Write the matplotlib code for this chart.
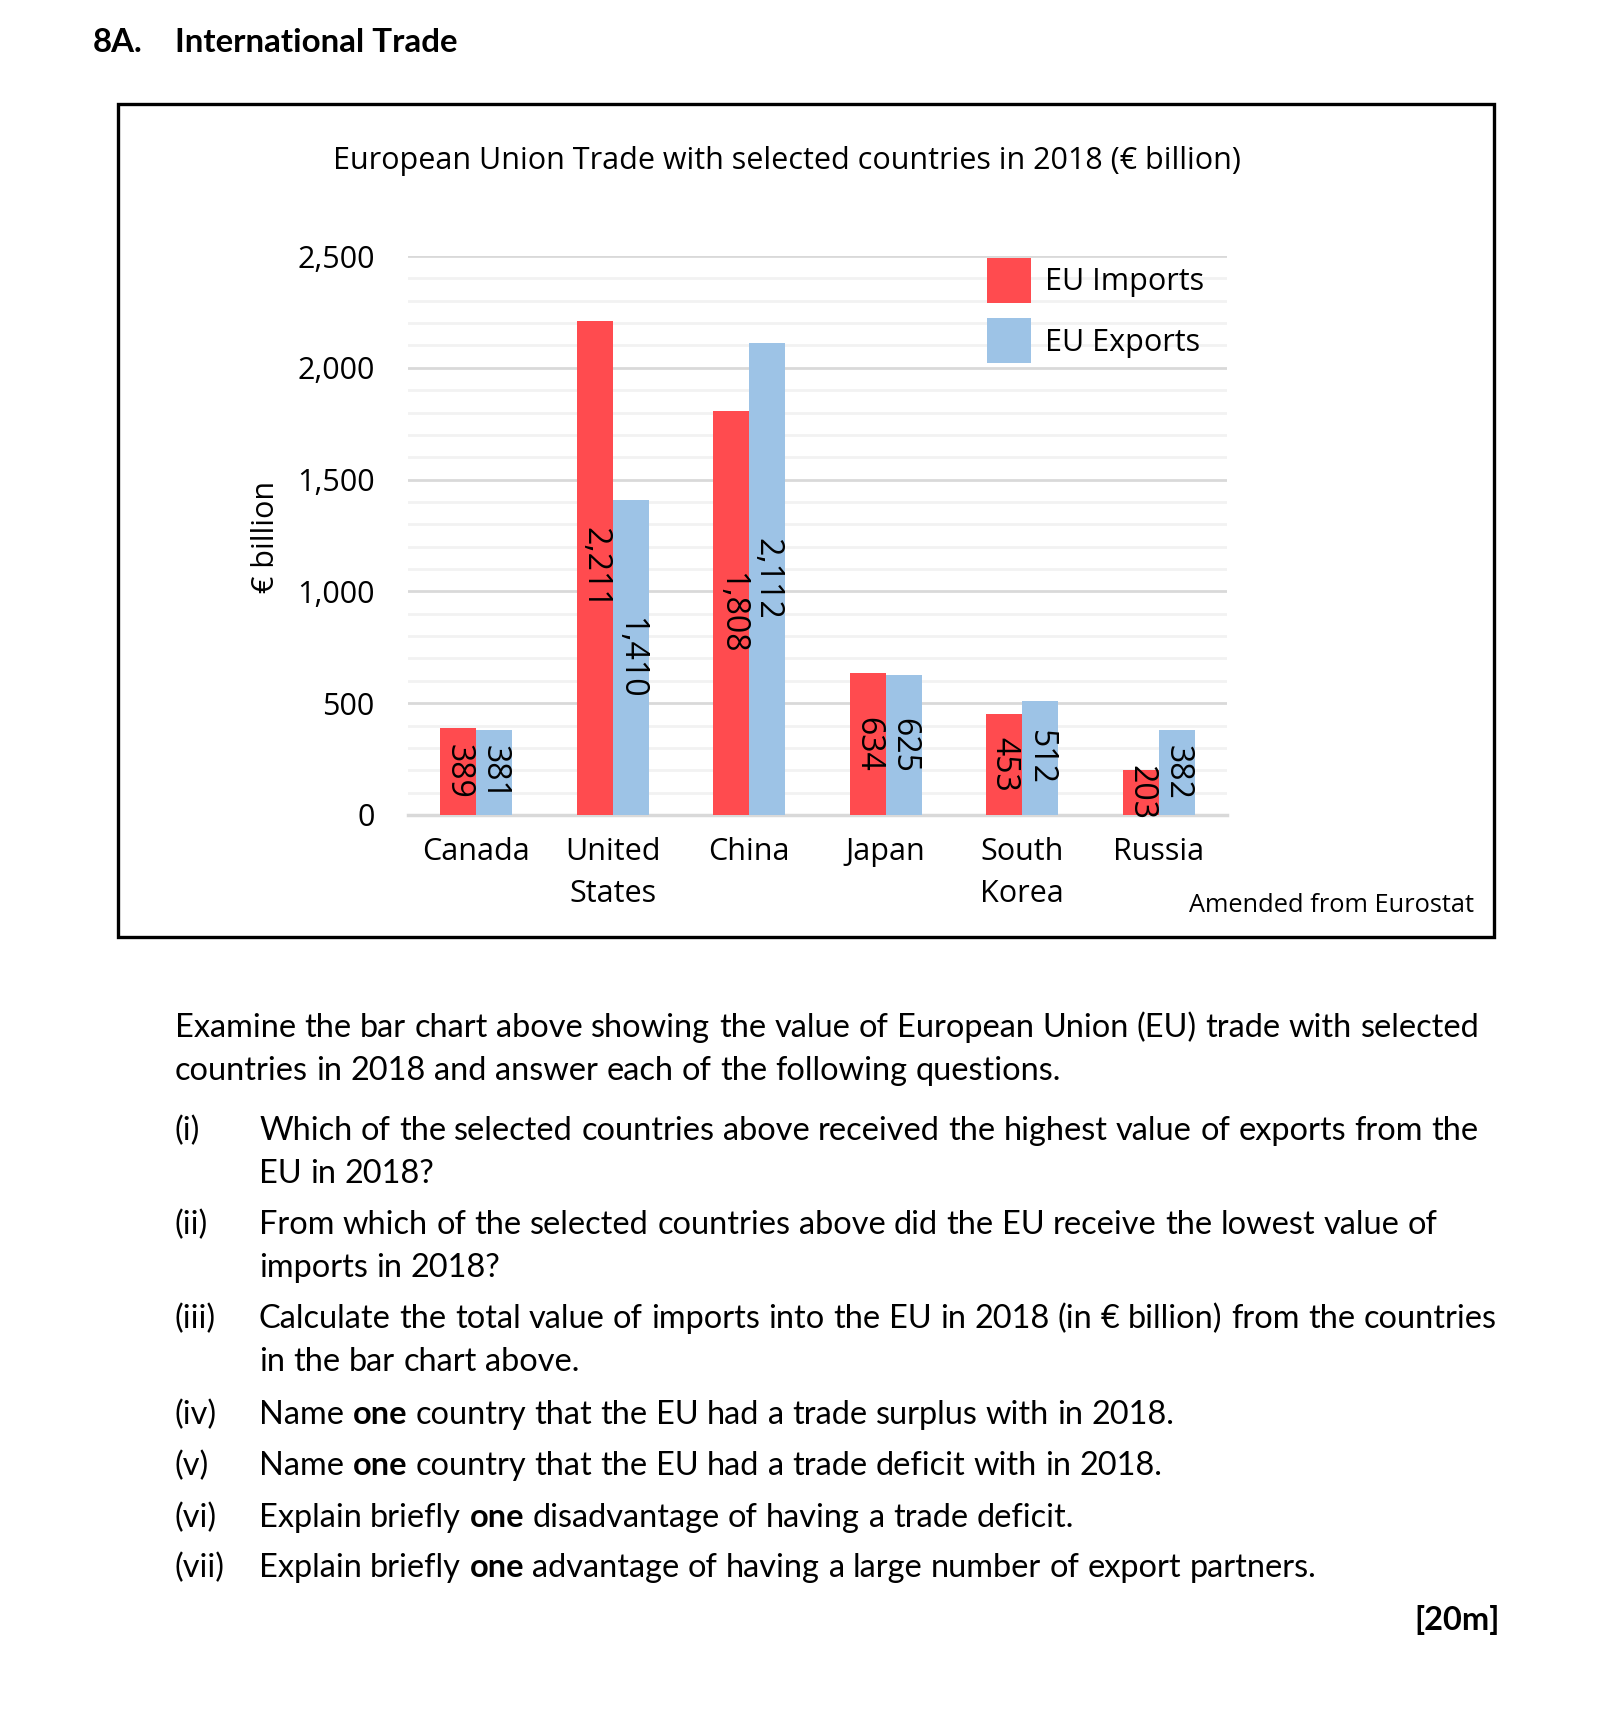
import numpy as np
import matplotlib.pyplot as plt
from matplotlib.patches import Rectangle
from matplotlib.ticker import MultipleLocator, FuncFormatter

# chart data (EUR billion, 2018)
countries = ['Canada', 'United\nStates', 'China', 'Japan', 'South\nKorea', 'Russia']
imports = [389, 2211, 1808, 634, 453, 203]
exports = [381, 1410, 2112, 625, 512, 382]

CHART = 'Open Sans'
BODY = 'Lato'
W, H = 1611, 1718

fig = plt.figure(figsize=(W / 100, H / 100), dpi=100)


def fx(px):
    return px / W


def fy(py):
    return 1 - py / H


# --- the bar chart ---
ax = fig.add_axes([fx(408), fy(815), fx(1227) - fx(408), fy(256) - fy(815)])
x = np.arange(len(countries))
w = 0.265
b1 = ax.bar(x - w / 2, imports, w, color='#FF4B4F', label='EU Imports', zorder=3)
b2 = ax.bar(x + w / 2, exports, w, color='#9DC3E6', label='EU Exports', zorder=3)

for bars, vals in ((b1, imports), (b2, exports)):
    for r, v in zip(bars, vals):
        ax.text(r.get_x() + r.get_width() / 2, v / 2, f'{v:,}', rotation=270,
                ha='center', va='center', fontsize=23, family=CHART, zorder=4)

ax.set_xlim(-0.5, 5.5)
ax.set_ylim(0, 2500)
ax.yaxis.set_major_locator(MultipleLocator(500))
ax.yaxis.set_minor_locator(MultipleLocator(100))
ax.yaxis.set_major_formatter(FuncFormatter(lambda v, p: f'{v:,.0f}'))
ax.grid(which='major', axis='y', color='#d9d9d9', lw=2, zorder=1)
ax.grid(which='minor', axis='y', color='#f2f2f2', lw=2, zorder=1)
ax.set_axisbelow(True)
for s in ('top', 'right', 'left'):
    ax.spines[s].set_visible(False)
ax.spines['bottom'].set_color('#d9d9d9')
ax.spines['bottom'].set_linewidth(2.5)
ax.tick_params(which='both', length=0, labelsize=22)
ax.tick_params(axis='y', pad=24)
ax.tick_params(axis='x', pad=16)
ax.set_xticks(x)
ax.set_xticklabels(countries, linespacing=1.5, va='top')
for lab in ax.get_xticklabels() + ax.get_yticklabels():
    lab.set_family(CHART)

ax.legend(loc='upper left', bbox_to_anchor=(0.707, 0.997), frameon=False,
          prop={'family': CHART, 'size': 22}, handlelength=1.44, handleheight=1.9,
          handletextpad=0.45, labelspacing=0.5, borderpad=0, borderaxespad=0)

fig.text(fx(266), fy(537), '€ billion', rotation=90, ha='center', va='center',
         fontsize=22, family=CHART)
fig.text(fx(787), fy(161), 'European Union Trade with selected countries in 2018 (€ billion)',
         ha='center', va='center', fontsize=22, family=CHART)
fig.text(fx(1474), fy(905), 'Amended from Eurostat', ha='right', va='center',
         fontsize=18.3, family=CHART)

fig.add_artist(Rectangle((fx(118), fy(937)), fx(1494) - fx(118), fy(104) - fy(937),
                         transform=fig.transFigure, fill=False, lw=2.4, ec='black'))

# --- heading and question text ---
fig.text(fx(93), fy(52), '8A.', fontsize=23.8, fontweight='bold', family=BODY, va='baseline')
fig.text(fx(175), fy(52), 'International Trade', fontsize=23.8, fontweight='bold',
         family=BODY, va='baseline')

renderer = fig.canvas.get_renderer()
BS = 23.4


def width_of(s, weight):
    t = fig.text(0, 0, s, fontsize=BS, fontweight=weight, family=BODY)
    wd = t.get_window_extent(renderer).width
    t.remove()
    return wd


SPACE = width_of('a a', 'normal') - width_of('aa', 'normal')


def rich_line(x0, base, text):
    # words wrapped in ** are drawn bold
    xp = x0
    for word in text.split(' '):
        weight = 'normal'
        if word.startswith('**'):
            word = word.strip('*')
            weight = 'bold'
        t = fig.text(fx(xp), fy(base), word, fontsize=BS, fontweight=weight,
                     family=BODY, va='baseline')
        xp += t.get_window_extent(renderer).width + SPACE


rich_line(175, 1037, 'Examine the bar chart above showing the value of European Union (EU) trade with selected')
rich_line(175, 1080, 'countries in 2018 and answer each of the following questions.')

questions = [
    ('(i)', ['Which of the selected countries above received the highest value of exports from the',
             'EU in 2018?'], 1140),
    ('(ii)', ['From which of the selected countries above did the EU receive the lowest value of',
              'imports in 2018?'], 1234),
    ('(iii)', ['Calculate the total value of imports into the EU in 2018 (in € billion) from the countries',
               'in the bar chart above.'], 1328),
    ('(iv)', ['Name **one** country that the EU had a trade surplus with in 2018.'], 1424),
    ('(v)', ['Name **one** country that the EU had a trade deficit with in 2018.'], 1475),
    ('(vi)', ['Explain briefly **one** disadvantage of having a trade deficit.'], 1527),
    ('(vii)', ['Explain briefly **one** advantage of having a large number of export partners.'], 1577),
]
for num, lines, base in questions:
    fig.text(fx(175), fy(base), num, fontsize=BS, family=BODY, va='baseline')
    for i, line in enumerate(lines):
        rich_line(259, base + 43 * i, line)

fig.text(fx(1500), fy(1630), '[20m]', fontsize=BS, fontweight='bold', family=BODY,
         ha='right', va='baseline')

fig.savefig('out.png', dpi=100, facecolor='white')
